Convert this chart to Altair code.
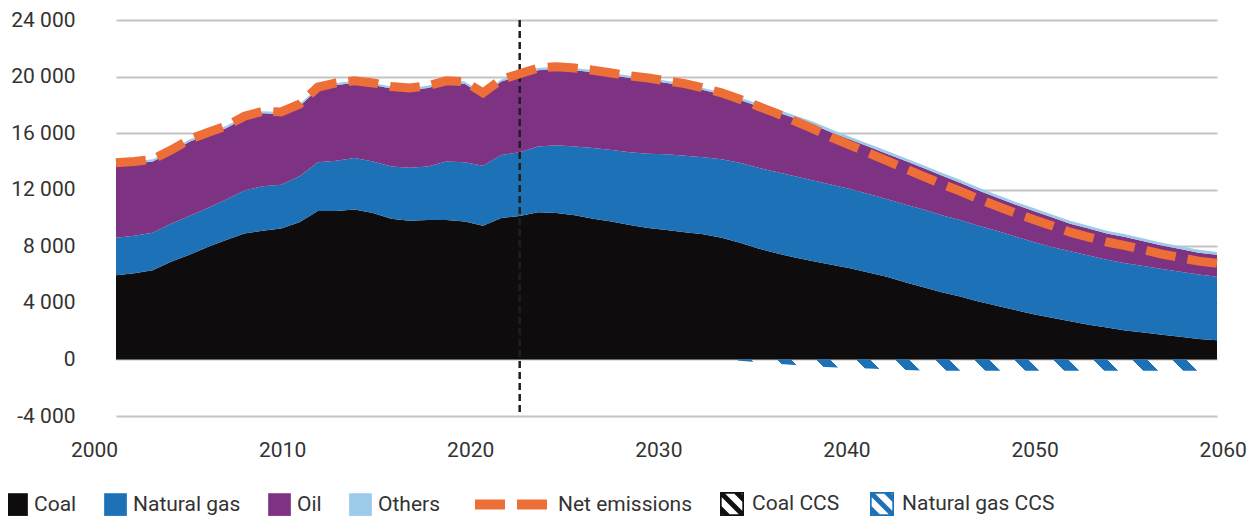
import altair as alt
import pandas as pd

# ---------------- data (Mt CO2) ----------------
years = list(range(2000, 2061))

coal = [5950, 6100, 6300, 6900, 7400, 7950, 8450, 8900, 9100, 9250,
        9700, 10500, 10500, 10600, 10350, 9950, 9800, 9850, 9850, 9750,
        9450, 10000, 10150, 10400, 10350, 10200, 9950, 9750, 9500, 9300,
        9150, 9000, 8850, 8600, 8250, 7850, 7500, 7200, 6950, 6700,
        6450, 6150, 5850, 5450, 5100, 4750, 4450, 4100, 3800, 3500,
        3200, 2950, 2700, 2450, 2250, 2050, 1900, 1750, 1600, 1450, 1350]

natural_gas = [2650, 2650, 2650, 2700, 2750, 2750, 2850, 3050, 3150, 3100,
               3250, 3450, 3550, 3650, 3650, 3700, 3750, 3800, 4150, 4200,
               4250, 4450, 4500, 4650, 4800, 4850, 5000, 5050, 5150, 5250,
               5350, 5400, 5450, 5550, 5650, 5700, 5750, 5750, 5700, 5650,
               5600, 5550, 5500, 5500, 5500, 5450, 5400, 5350, 5300, 5200,
               5100, 5000, 4950, 4900, 4800, 4750, 4700, 4650, 4600, 4550, 4500]

oil = [5150, 5100, 5050, 5050, 5250, 5200, 5050, 5100, 5150, 5000,
       4950, 5150, 5350, 5300, 5400, 5500, 5500, 5550, 5550, 5550,
       5000, 5200, 5400, 5400, 5400, 5400, 5350, 5300, 5250, 5200,
       5050, 4950, 4750, 4580, 4450, 4350, 4250, 4100, 3950, 3700,
       3500, 3350, 3200, 3100, 2930, 2800, 2650, 2500, 2350, 2250,
       2200, 2100, 1950, 1900, 1850, 1850, 1750, 1650, 1600, 1550, 1550]

others = [150, 150, 150, 150, 150, 150, 150, 150, 150, 150,
          150, 150, 150, 150, 150, 150, 150, 150, 150, 150,
          150, 150, 150, 150, 150, 150, 150, 150, 150, 150,
          150, 150, 150, 150, 150, 200, 200, 200, 200, 200,
          200, 200, 200, 200, 200, 200, 200, 200, 200, 200,
          200, 200, 200, 200, 200, 200, 200, 200, 200, 200, 200]

coal_ccs = [0, 0, 0, 0, 0, 0, 0, 0, 0, 0,
            0, 0, 0, 0, 0, 0, 0, 0, 0, 0,
            0, 0, 0, 0, 0, 0, 0, 0, 0, 0,
            0, 0, 0, 0, 0, 0, 0, 0, 0, 0,
            0, 0, 0, 0, 0, 0, 0, 0, 0, 0,
            0, 0, 0, 0, 0, 0, 0, 0, 0, 0, 0]

natural_gas_ccs = [0, 0, 0, 0, 0, 0, 0, 0, 0, 0,
                   0, 0, 0, 0, 0, 0, 0, 0, 0, 0,
                   0, 0, 0, 0, 0, 0, 0, 0, 0, 0,
                   0, 0, 0, 30, 100, 200, 300, 400, 500, 550,
                   600, 650, 700, 750, 780, 800, 800, 800, 800, 800,
                   800, 800, 800, 800, 800, 800, 800, 800, 800, 800, 800]

series_names = ["Coal", "Natural gas", "Oil", "Others"]
series_colors = ["#0e0c0d", "#1c71b7", "#7d3282", "#9ccbea"]
ccs_names = ["Coal CCS", "Natural gas CCS"]
ccs_colors = ["#111111", "#1c71b7"]
net_name = "Net emissions"
net_color = "#ee6e38"

x_tick_labels = [2000, 2010, 2020, 2030, 2040, 2050, 2060]
y_ticks = [-4000, 0, 4000, 8000, 12000, 16000, 20000, 24000]
divider_year = [2022]

FONT = "Roboto"
TEXT = "#333333"

# ---------------- tables built from the arrays ----------------
area_rows, ccs_rows, net_rows = [], [], []
for i, yr in enumerate(years):
    lo = 0
    for name, vals in zip(series_names, [coal, natural_gas, oil, others]):
        hi = lo + vals[i]
        area_rows.append({"year": yr, "series": name, "lo": lo, "hi": hi})
        lo = hi
    total = lo
    top = 0
    for name, vals in zip(ccs_names, [coal_ccs, natural_gas_ccs]):
        bottom = top - vals[i]
        ccs_rows.append({"year": yr, "series": name, "lo": bottom, "hi": top})
        top = bottom
    net_rows.append({"year": yr, "net": total + top, "label": net_name})

area_df = pd.DataFrame(area_rows)
ccs_df = pd.DataFrame(ccs_rows)
net_df = pd.DataFrame(net_rows)
div_df = pd.DataFrame({"year": divider_year})
tick_df = pd.DataFrame({"tick": x_tick_labels})

# ---------------- hatch symbol path for the CCS legend ----------------
def clip(poly, f):
    out = []
    n = len(poly)
    for k in range(n):
        p, q = poly[k], poly[(k + 1) % n]
        fp, fq = f(p), f(q)
        if fp >= 0:
            out.append(p)
        if (fp >= 0) != (fq >= 0):
            t = fp / (fp - fq)
            out.append((p[0] + t * (q[0] - p[0]), p[1] + t * (q[1] - p[1])))
    return out

square = [(-1, -1), (1, -1), (1, 1), (-1, 1)]
parts = ["M-1,-1L1,-1L1,1L-1,1Z", "M-0.86,-0.86L-0.86,0.86L0.86,0.86L0.86,-0.86Z"]
for a, b in [(-1.62, -1.05), (-0.29, 0.29), (1.05, 1.62)]:
    poly = clip(square, lambda p, a=a: (p[0] - p[1]) - a)
    poly = clip(poly, lambda p, b=b: b - (p[0] - p[1]))
    if len(poly) >= 3:
        parts.append("M" + "L".join(f"{x:.3f},{y:.3f}" for x, y in poly) + "Z")
hatch_path = " ".join(parts)

# ---------------- stripes gradient for the CCS areas ----------------
def stripe_fill(color, n=13, share=0.36):
    clear = "rgba(255,255,255,0)"
    st = []
    for k in range(n):
        s, m, e = k / n, (k + share) / n, (k + 1) / n
        st += [alt.GradientStop(offset=s, color=color), alt.GradientStop(offset=m, color=color),
               alt.GradientStop(offset=m, color=clear), alt.GradientStop(offset=e, color=clear)]
    return alt.LinearGradient(gradient="linear", stops=st, x1=0, x2=1, y1=0.511, y2=0.489)

# ---------------- scales / axes ----------------
x_scale = alt.Scale(domain=[2000, 2060], nice=False, zero=False)
y_scale = alt.Scale(domain=[-4000, 24000], nice=False, zero=False)
y_axis = alt.Axis(values=y_ticks, grid=True, gridColor="#c4c4c7", gridWidth=2,
                  domain=False, ticks=False, title=None, labelFont=FONT, labelFontSize=21,
                  labelColor=TEXT, labelPadding=41,
                  labelExpr="(datum.value < 0 ? '-' : '') + replace(format(abs(datum.value), ','), ',', ' ')")

X = alt.X("year:Q", scale=x_scale, axis=None)

areas = alt.Chart(area_df).mark_area().encode(
    x=X,
    y=alt.Y("lo:Q", scale=y_scale, axis=y_axis),
    y2="hi:Q",
    color=alt.Color("series:N", scale=alt.Scale(domain=series_names, range=series_colors),
                    legend=alt.Legend(orient="none", legendX=-111, legendY=473, direction="horizontal",
                                      columns=4, title=None, symbolType="square", symbolSize=515,
                                      symbolStrokeWidth=0, symbolOpacity=1, labelFont=FONT,
                                      labelFontSize=21, labelColor=TEXT, labelOffset=6,
                                      columnPadding=27, padding=0, labelLimit=300)),
)

# legend carrier for the CCS series (invisible area, its legend shows hatched symbols)
ccs_legend = alt.Chart(ccs_df).transform_filter("datum.year >= 2032").mark_area(opacity=0).encode(
    x=X,
    y=alt.Y("lo:Q", scale=y_scale, axis=y_axis),
    y2="hi:Q",
    fill=alt.Fill("series:N", scale=alt.Scale(domain=ccs_names, range=ccs_colors),
                  legend=alt.Legend(orient="none", legendX=604, legendY=472, direction="horizontal",
                                    columns=2, title=None, symbolType=hatch_path, symbolSize=576,
                                    symbolStrokeWidth=0, symbolOpacity=1, labelFont=FONT,
                                    labelFontSize=21, labelColor=TEXT, labelOffset=8,
                                    columnPadding=30, padding=0, labelLimit=300)),
)

ccs_layers = []
for name, col in zip(ccs_names, ccs_colors):
    ccs_layers.append(
        alt.Chart(ccs_df).transform_filter(
            f"datum.year >= 2032 && datum.series == '{name}'"
        ).mark_area(fill=stripe_fill(col)).encode(
            x=X,
            y=alt.Y("lo:Q", scale=y_scale, axis=y_axis),
            y2="hi:Q",
        )
    )

divider = alt.Chart(div_df).mark_rule(color="#1f1f1f", strokeWidth=2.5, strokeDash=[7, 4]).encode(
    x=alt.X("year:Q", scale=x_scale, axis=None)
)

net_line = alt.Chart(net_df).mark_line(color=net_color, strokeWidth=9, strokeCap="butt").encode(
    x=X,
    y=alt.Y("net:Q", scale=y_scale, axis=y_axis),
    strokeDash=alt.StrokeDash("label:N", scale=alt.Scale(domain=[net_name], range=[[30, 12]]),
                              legend=alt.Legend(orient="none", legendX=354, legendY=443,
                                                title=None, symbolType="stroke", symbolSize=5329,
                                                symbolStrokeWidth=10, symbolStrokeColor=net_color,
                                                labelFont=FONT, labelFontSize=21, labelColor=TEXT,
                                                labelOffset=5, padding=0, labelLimit=300)),
)

x_axis_layer = alt.Chart(tick_df).mark_point(opacity=0).encode(
    x=alt.X("tick:Q",
            scale=alt.Scale(domain=[2000, 2060], range=[-22, 1106.7], nice=False, zero=False),
            axis=alt.Axis(values=x_tick_labels, format="d", orient="bottom", labelFlush=False,
                          grid=False, domain=False, ticks=False, title=None, labelFont=FONT,
                          labelFontSize=21, labelColor=TEXT, labelPadding=23))
)

chart = alt.layer(areas, ccs_legend, *ccs_layers, divider, net_line, x_axis_layer).resolve_scale(
    x="independent"
).properties(
    width=1101,
    height=396,
    autosize=alt.AutoSizeParams(type="none"),
    padding={"left": 108, "top": 12, "right": 31, "bottom": 100},
    background="white",
).configure_view(stroke=None)

chart.save("out.html", embed_options={"renderer": "svg", "actions": False})
